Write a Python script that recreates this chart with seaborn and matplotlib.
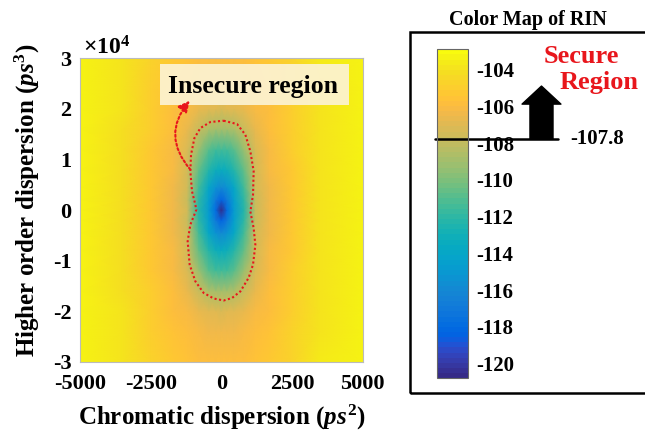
import numpy as np
import pandas as pd
import matplotlib
matplotlib.use("Agg")
import matplotlib.pyplot as plt
from matplotlib.colors import ListedColormap
from matplotlib.patches import Rectangle
from matplotlib.ticker import FuncFormatter
import seaborn as sns

# ---------------------------------------------------------------------------
# RIN (dB/Hz) sampled over chromatic dispersion (ps^2) and higher-order
# dispersion (ps^3)
# ---------------------------------------------------------------------------
cd_nodes = [-5000, -3500, -2500, -1700, -1200, -800, -450, -200, 0,
            200, 450, 800, 1200, 1700, 2500, 3500, 5000]
hod_nodes = [-30000, -24000, -20000, -16000, -12000, -8000, -4500, -2000, 0,
             2000, 4500, 8000, 12000, 16000, 20000, 24000, 30000]

rin_grid = [
    [-103.3, -103.9, -104.7, -105.3, -105.6, -105.7, -105.8, -105.9, -105.9, -105.9, -105.8, -105.7, -105.6, -105.3, -104.6, -103.7, -103.2],
    [-103.3, -104.0, -104.9, -105.6, -105.9, -106.1, -106.3, -106.4, -106.4, -106.4, -106.3, -106.1, -105.9, -105.6, -104.8, -103.8, -103.2],
    [-103.3, -104.0, -105.0, -105.8, -106.2, -106.6, -106.9, -107.0, -107.1, -107.0, -106.9, -106.6, -106.2, -105.8, -104.9, -103.8, -103.2],
    [-103.3, -104.1, -105.1, -105.9, -106.6, -107.7, -108.5, -108.9, -109.0, -108.9, -108.5, -107.7, -106.6, -105.9, -105.0, -103.9, -103.2],
    [-103.3, -104.1, -105.2, -106.0, -107.1, -109.2, -110.8, -111.3, -111.5, -111.3, -110.8, -109.2, -107.1, -106.0, -105.1, -103.9, -103.2],
    [-103.3, -104.1, -105.2, -106.2, -107.5, -110.6, -112.4, -113.2, -113.5, -113.2, -112.4, -110.6, -107.4, -106.2, -105.2, -104.0, -103.2],
    [-103.3, -104.1, -105.3, -106.3, -107.6, -111.5, -113.9, -115.4, -116.0, -115.4, -113.9, -111.5, -107.6, -106.3, -105.2, -104.0, -103.2],
    [-103.3, -104.1, -105.3, -106.4, -107.7, -112.0, -114.6, -117.0, -118.4, -117.0, -114.6, -112.0, -107.7, -106.4, -105.3, -104.0, -103.2],
    [-103.3, -104.1, -105.3, -106.4, -107.6, -112.2, -114.9, -117.8, -120.8, -117.8, -114.9, -112.2, -107.7, -106.4, -105.3, -104.0, -103.2],
    [-103.3, -104.1, -105.3, -106.4, -107.7, -112.0, -114.6, -117.0, -118.4, -117.0, -114.6, -112.0, -107.7, -106.4, -105.3, -104.0, -103.2],
    [-103.3, -104.1, -105.3, -106.3, -107.6, -111.5, -113.9, -115.4, -116.0, -115.4, -113.9, -111.5, -107.6, -106.3, -105.3, -104.0, -103.2],
    [-103.3, -104.1, -105.2, -106.2, -107.4, -110.6, -112.4, -113.2, -113.5, -113.2, -112.4, -110.6, -107.4, -106.2, -105.2, -104.0, -103.2],
    [-103.3, -104.1, -105.2, -106.0, -107.1, -109.2, -110.8, -111.3, -111.5, -111.3, -110.8, -109.2, -107.1, -106.0, -105.1, -103.9, -103.2],
    [-103.3, -104.1, -105.1, -105.9, -106.6, -107.7, -108.5, -108.9, -109.0, -108.9, -108.5, -107.7, -106.6, -105.9, -105.0, -103.9, -103.2],
    [-103.3, -104.0, -105.0, -105.8, -106.2, -106.6, -106.9, -107.0, -107.1, -107.0, -106.9, -106.6, -106.2, -105.8, -104.9, -103.8, -103.2],
    [-103.3, -104.0, -104.9, -105.6, -105.9, -106.1, -106.3, -106.4, -106.4, -106.4, -106.3, -106.1, -105.9, -105.6, -104.8, -103.8, -103.2],
    [-103.3, -103.9, -104.7, -105.3, -105.6, -105.7, -105.8, -105.9, -105.9, -105.9, -105.8, -105.7, -105.6, -105.3, -104.6, -103.7, -103.2],
]

rin_min, rin_max = -120.8, -102.9
secure_threshold = -107.8
cbar_ticks = [-120, -118, -116, -114, -112, -110, -108, -106, -104]
cd_ticks = [-5000, -2500, 0, 2500, 5000]
hod_ticks = [-30000, -20000, -10000, 0, 10000, 20000, 30000]
hod_scale = 1e4

# Boundary of the insecure region (RIN below the threshold)
insecure_cd = [82, 555, 849, 1026, 1143, 1120, 1026, 1143, 1203, 1120, 966, 672,
               378, 82, -272, -626, -920, -1121, -1192, -1097, -884, -920,
               -1038, -1097, -1073, -955, -743, -389, 82]
insecure_hod = [17660, 17000, 14900, 11600, 7650, 3000, -300, -3600, -6900,
                -10800, -13400, -16100, -17400, -17900, -17500, -16400, -14100,
                -10800, -6200, -2900, 60, 1050, 3700, 7650, 10900, 14200,
                16200, 17400, 17660]

# MATLAB parula colour table
parula_rgb = [
    [0.2081, 0.1663, 0.5292], [0.2116, 0.1898, 0.5777], [0.2123, 0.2138, 0.6270],
    [0.2081, 0.2386, 0.6771], [0.1959, 0.2645, 0.7279], [0.1707, 0.2919, 0.7792],
    [0.1253, 0.3242, 0.8303], [0.0591, 0.3598, 0.8683], [0.0117, 0.3875, 0.8820],
    [0.0060, 0.4086, 0.8828], [0.0165, 0.4266, 0.8786], [0.0329, 0.4430, 0.8720],
    [0.0498, 0.4586, 0.8641], [0.0629, 0.4737, 0.8554], [0.0723, 0.4887, 0.8467],
    [0.0779, 0.5040, 0.8384], [0.0793, 0.5200, 0.8312], [0.0749, 0.5375, 0.8263],
    [0.0641, 0.5570, 0.8240], [0.0488, 0.5772, 0.8228], [0.0343, 0.5966, 0.8199],
    [0.0265, 0.6137, 0.8135], [0.0239, 0.6287, 0.8038], [0.0231, 0.6418, 0.7913],
    [0.0228, 0.6535, 0.7768], [0.0267, 0.6642, 0.7607], [0.0384, 0.6743, 0.7436],
    [0.0590, 0.6838, 0.7254], [0.0843, 0.6928, 0.7062], [0.1133, 0.7015, 0.6859],
    [0.1453, 0.7098, 0.6646], [0.1801, 0.7177, 0.6424], [0.2178, 0.7250, 0.6193],
    [0.2586, 0.7317, 0.5954], [0.3022, 0.7376, 0.5712], [0.3482, 0.7424, 0.5473],
    [0.3953, 0.7459, 0.5244], [0.4420, 0.7481, 0.5033], [0.4871, 0.7491, 0.4840],
    [0.5300, 0.7491, 0.4661], [0.5709, 0.7485, 0.4494], [0.6099, 0.7473, 0.4337],
    [0.6473, 0.7456, 0.4188], [0.6834, 0.7435, 0.4044], [0.7184, 0.7411, 0.3905],
    [0.7525, 0.7384, 0.3768], [0.7858, 0.7356, 0.3633], [0.8185, 0.7327, 0.3498],
    [0.8507, 0.7299, 0.3360], [0.8824, 0.7274, 0.3217], [0.9139, 0.7258, 0.3063],
    [0.9450, 0.7261, 0.2886], [0.9739, 0.7314, 0.2666], [0.9938, 0.7455, 0.2403],
    [0.9990, 0.7653, 0.2164], [0.9955, 0.7861, 0.1967], [0.9880, 0.8066, 0.1794],
    [0.9789, 0.8271, 0.1633], [0.9697, 0.8481, 0.1475], [0.9626, 0.8705, 0.1309],
    [0.9589, 0.8949, 0.1132], [0.9598, 0.9218, 0.0948], [0.9661, 0.9514, 0.0755],
    [0.9763, 0.9831, 0.0538],
]
parula = ListedColormap(parula_rgb, name="parula")

# ---------------------------------------------------------------------------
sns.set_theme(style="white")
plt.rcParams.update({
    "font.family": ["Liberation Serif", "DejaVu Serif"],
    "font.weight": "bold",
    "axes.labelweight": "bold",
    "axes.unicode_minus": False,
    "text.color": "black",
    "axes.labelcolor": "black",
    "xtick.color": "black",
    "ytick.color": "black",
    "mathtext.fontset": "custom",
    "mathtext.rm": "Liberation Serif:bold",
    "mathtext.bf": "Liberation Serif:bold",
    "mathtext.it": "Liberation Serif:italic:bold",
})

W, H = 645, 434
fig = plt.figure(figsize=(W / 100, H / 100), dpi=100)
red = "#e8161c"

# --- RIN map ---------------------------------------------------------------
ax = fig.add_axes([80 / W, 1 - 361.7 / H, 282.7 / W, 303.4 / H])
X, Y = np.meshgrid(cd_nodes, hod_nodes)
mesh = ax.pcolormesh(X, Y, np.array(rin_grid), cmap=parula, vmin=rin_min,
                     vmax=rin_max, shading="gouraud", rasterized=True)

boundary = pd.DataFrame({"cd": insecure_cd, "hod": insecure_hod})
sns.lineplot(data=boundary, x="cd", y="hod", sort=False, estimator=None,
             color=red, lw=1.5, linestyle=(0, (1, 1.2)), ax=ax, legend=False,
             zorder=3)

ax.annotate("", xy=(-1121, 21600), xytext=(-1097, 8000),
            arrowprops=dict(arrowstyle="-|>,head_length=0.55,head_width=0.28",
                            color=red, lw=1.5, linestyle=(0, (1, 1.2)),
                            connectionstyle="arc3,rad=-0.42",
                            shrinkA=0, shrinkB=0), zorder=4)

ax.add_patch(Rectangle((-2158, 20820), 6661, 8050, fc="#fcf3d3", ec="none",
                       alpha=0.92, zorder=3))
ax.text(1114, 23140, "Insecure region", ha="center", va="baseline",
        fontsize=18.5, color="black", zorder=4)

ax.set_xlim(-5000, 5000)
ax.set_ylim(-30000, 30000)
ax.set_xticks(cd_ticks)
ax.set_yticks(hod_ticks)
ax.yaxis.set_major_formatter(FuncFormatter(lambda v, _: f"{v / hod_scale:g}"))
ax.text(0.01, 0.995, r"$\times\mathbf{10^{4}}$", transform=ax.transAxes,
        ha="left", va="bottom", fontsize=17)
ax.tick_params(length=0, labelsize=16, colors="black")
ax.tick_params(axis="x", pad=9)
ax.tick_params(axis="y", pad=6)
for s in ax.spines.values():
    s.set_color("#bbbbbb")
    s.set_linewidth(0.8)

ax.set_xlabel(r"Chromatic dispersion ($\mathit{ps}^{\mathbf{2}}$)", fontsize=18)
ax.set_ylabel(r"Higher order dispersion ($\mathit{ps}^{\mathbf{3}}$)", fontsize=18)
ax.xaxis.set_label_coords(0.5, -0.135)
ax.yaxis.set_label_coords(-0.135, 0.533)

# --- Colour bar panel ------------------------------------------------------
fig.add_artist(Rectangle((410 / W, 1 - 393 / H), 0.5, (393 - 32.3) / H,
                         transform=fig.transFigure, fill=False, ec="black",
                         lw=1.8))
fig.text(528 / W, 1 - 20 / H, "Color Map of RIN", ha="center", va="center",
         fontsize=14.5)

cax = fig.add_axes([436.7 / W, 1 - 378.3 / H, 31.6 / W, 329 / H])
cb = fig.colorbar(mesh, cax=cax, ticks=cbar_ticks)
cb.outline.set_edgecolor("#666666")
cb.outline.set_linewidth(0.8)
cax.tick_params(direction="in", length=3, width=1, color="#333333",
                labelcolor="black", labelsize=15, pad=5.5)

trans = cax.get_yaxis_transform()
cax.plot([-0.054, 3.85], [secure_threshold, secure_threshold], color="black",
         lw=1.8, transform=trans, clip_on=False)
cax.text(4.22, secure_threshold, f"{secure_threshold:.1f}", transform=trans,
         ha="left", va="center", fontsize=15)
cax.annotate("", xy=(3.316, secure_threshold + 2.9),
             xytext=(3.316, secure_threshold), xycoords=trans, textcoords=trans,
             arrowprops=dict(arrowstyle="simple,head_length=0.65,head_width=1.4,tail_width=0.83",
                             fc="black", ec="black", mutation_scale=20,
                             shrinkA=0, shrinkB=0),
             annotation_clip=False)

fig.text(581 / W, 1 - 56.7 / H, "Secure", ha="center", va="center",
         fontsize=19, color=red)
fig.text(599 / W, 1 - 83 / H, "Region", ha="center", va="center",
         fontsize=19, color=red)

fig.savefig("out.png", dpi=100, facecolor="white")
